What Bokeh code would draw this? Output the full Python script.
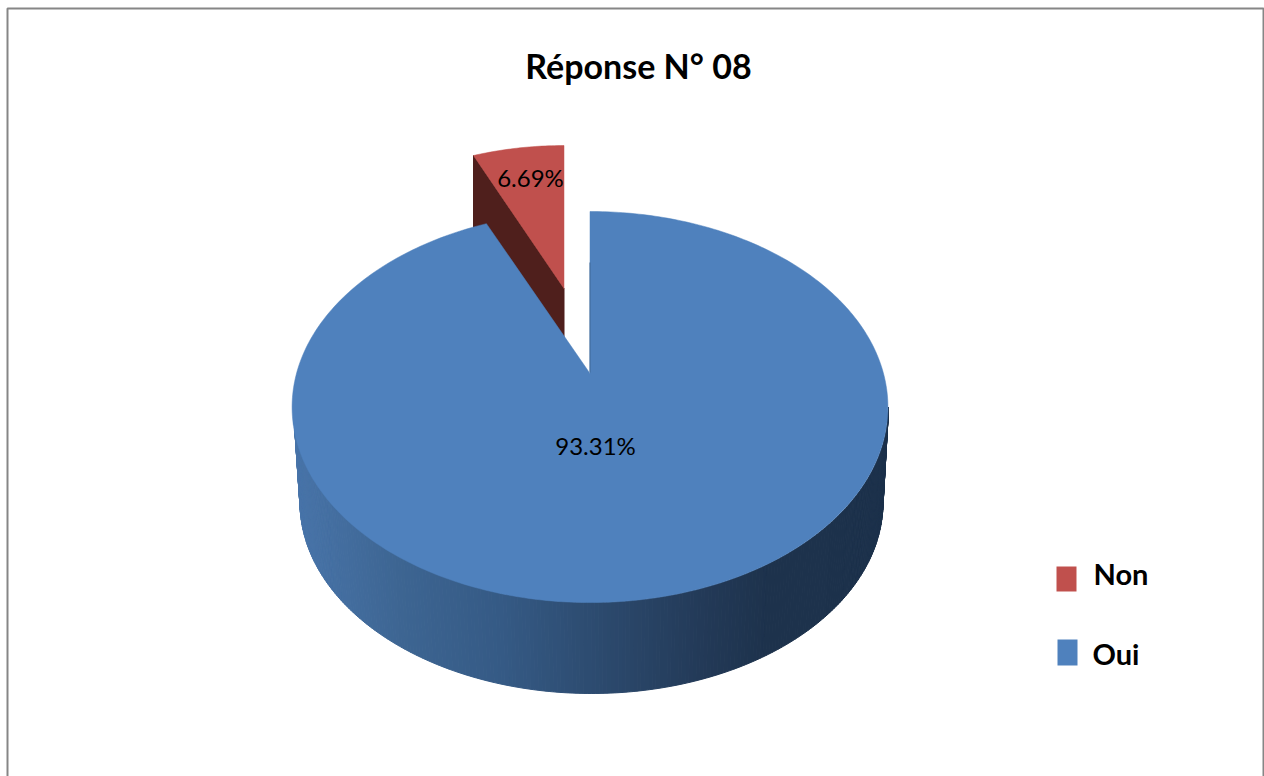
import numpy as np
from bokeh.plotting import figure
from bokeh.models import Range1d
from bokeh.core.properties import value
from bokeh.embed import file_html
from bokeh.resources import INLINE

# ---- data
title_text = "Réponse N° 08"
categories = ["Non", "Oui"]
shares = [6.69, 93.31]
share_labels = ["6.69%", "93.31%"]
colors = ["#C0504D", "#4F81BD"]
red_side = "#4F1F1C"
border_color = "#868686"
font = "Lato"

# ---- layout (page pixels)
W, H = 1264, 776
p = figure(width=W, height=H, output_backend="svg", toolbar_location=None,
           x_range=Range1d(0, W), y_range=Range1d(H, 0),
           min_border=0, outline_line_color=None, margin=0,
           background_fill_color="white", border_fill_color="white")
p.axis.visible = False
p.grid.visible = False

def project(phi, ax, ay, a, b, k):
    """phi clockwise from 12 o'clock on a tilted disc, seen in perspective."""
    u, v = np.sin(phi), np.cos(phi)
    m = 1 + k * v
    return ax + a * u / m, ay - b * v / m

non_sweep = shares[0] / 100 * 2 * np.pi
oui_sweep = shares[1] / 100 * 2 * np.pi

# border (bottom edge falls beyond the window in the reference)
p.line([7, 7, 1263, 1263], [780, 8, 8, 780], line_color=border_color, line_width=2)

# ---- red slice (exploded)
phi_r = np.linspace(-non_sweep, 0, 30)
rx, ry = project(phi_r, 563.5, 288, 276, 181.3, 0.268)
apex_r = (563.5, 288)
depth_r = 90
side_x = [rx[0], apex_r[0], apex_r[0], rx[0]]
side_y = [ry[0], apex_r[1], apex_r[1] + depth_r, ry[0] + depth_r]
p.patch(side_x, side_y, fill_color=red_side, line_color=red_side, line_width=1)
p.patch(list(rx) + [apex_r[0]], list(ry) + [apex_r[1]],
        fill_color=colors[0], line_color=colors[0], line_width=0.5)

# ---- blue cylinder wall
stops_x = [295, 400, 500, 600, 700, 765, 890]
stops_rgb = np.array([[0x48, 0x74, 0xa9], [0x3d, 0x65, 0x92], [0x35, 0x5a, 0x85],
                      [0x2c, 0x4a, 0x6e], [0x23, 0x3a, 0x58], [0x1d, 0x32, 0x4c],
                      [0x1c, 0x31, 0x4b]], dtype=float)
cx_t, cy_t, a_t, b_t = 590.5, 406.5, 297.5, 195.5
cx_b, cy_b, a_b, b_b = 591.0, 502.0, 291.5, 191.0
s = np.linspace(0, np.pi, 241)
xs, ys, cs = [], [], []
for s0, s1 in zip(s[:-1], s[1:]):
    xq = [cx_t + a_t * np.cos(s0), cx_t + a_t * np.cos(s1), cx_b + a_b * np.cos(s1), cx_b + a_b * np.cos(s0)]
    yq = [cy_t + b_t * np.sin(s0), cy_t + b_t * np.sin(s1), cy_b + b_b * np.sin(s1), cy_b + b_b * np.sin(s0)]
    xm = np.mean(xq)
    rgb = [int(round(np.interp(xm, stops_x, stops_rgb[:, i]))) for i in range(3)]
    xs.append(xq); ys.append(yq); cs.append("#%02x%02x%02x" % tuple(rgb))
p.patches(xs, ys, fill_color=cs, line_color=cs, line_width=1)

# ---- blue top face
apex = (589.5, 373)
phi_b = np.linspace(0, oui_sweep, 360)
bx, by = project(phi_b, apex[0], apex[1], 293.5, 189.8, 0.1714)
p.patch(list(bx) + [apex[0]], list(by) + [apex[1]],
        fill_color=colors[1], line_color=colors[1], line_width=0.5)
p.line([589.5, 589.5], [262, 372], line_color="#3F6897", line_width=1)

# ---- labels
p.text([530], [177], text=[share_labels[0]], text_font=value(font), text_font_size="24px",
       text_align="center", text_baseline="middle", text_color="black")
p.text([595], [445], text=[share_labels[1]], text_font=value(font), text_font_size="24px",
       text_align="center", text_baseline="middle", text_color="black")
p.text([638], [65], text=[title_text], text_font=value(font), text_font_size="34px",
       text_font_style="bold", text_align="center", text_baseline="middle", text_color="black")

# ---- legend
p.quad(left=[1056, 1057], right=[1076, 1077], top=[566, 639], bottom=[591, 665],
       fill_color=colors, line_color=None)
p.text([1093, 1092], [573, 653], text=categories, text_font=value(font), text_font_size="29px",
       text_font_style="bold", text_align="left", text_baseline="middle", text_color="black")

open("out.html", "w").write(file_html(p, INLINE))
